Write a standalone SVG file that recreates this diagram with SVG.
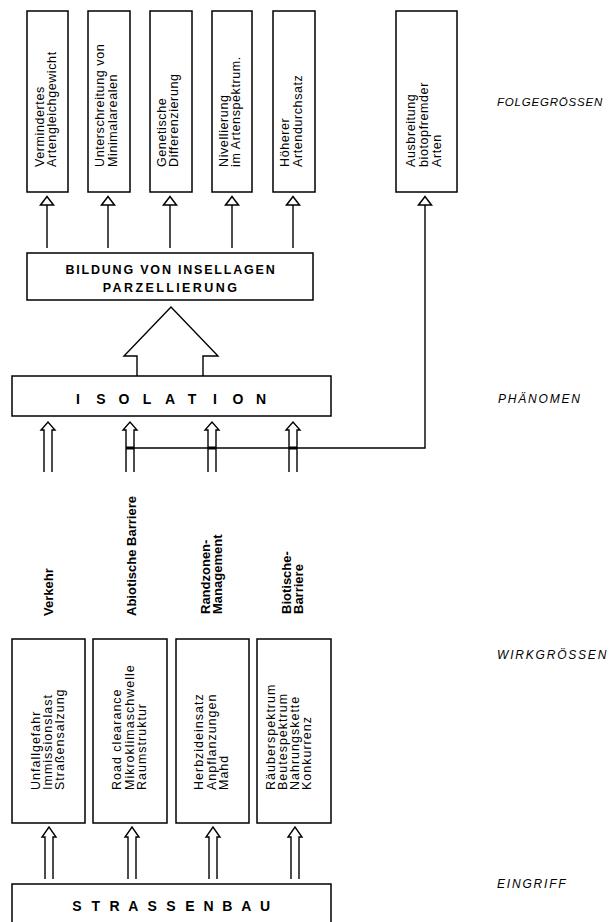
<svg xmlns="http://www.w3.org/2000/svg" width="610" height="922" viewBox="0 0 610 922">
<style>
.box{fill:#fff;stroke:#000;stroke-width:1.5}
.ln{fill:none;stroke:#000;stroke-width:1.4}
.harr{fill:#fff;stroke:#000;stroke-width:1.4;stroke-linejoin:miter}
.t{font-family:"Liberation Sans",Arial,sans-serif;font-size:12.5px;letter-spacing:0.6px;fill:#000}
.t2{font-family:"Liberation Sans",Arial,sans-serif;font-size:12.5px;letter-spacing:1px;fill:#000}
.tb{font-family:"Liberation Sans",Arial,sans-serif;font-size:13px;font-weight:bold;fill:#000}
.hd{font-family:"Liberation Sans",Arial,sans-serif;font-weight:bold;fill:#000}
.lvl{font-family:"Liberation Sans",Arial,sans-serif;font-size:12px;font-style:italic;letter-spacing:1.8px;fill:#000}
</style>
<defs>
<marker id="tri" markerUnits="userSpaceOnUse" markerWidth="12" markerHeight="16" viewBox="-1 -8 12 16" refX="0" refY="0" orient="auto" overflow="visible">
<path d="M0,-6.5 L8.5,0 L0,6.5 Z" fill="#fff" stroke="#000" stroke-width="1.5"/>
</marker>
</defs>

<g id="connectors">
<line class="ln" x1="47" y1="248" x2="47" y2="205" marker-end="url(#tri)"/>
<line class="ln" x1="108" y1="248" x2="108" y2="205" marker-end="url(#tri)"/>
<line class="ln" x1="170" y1="248" x2="170" y2="205" marker-end="url(#tri)"/>
<line class="ln" x1="232" y1="248" x2="232" y2="205" marker-end="url(#tri)"/>
<line class="ln" x1="293" y1="248" x2="293" y2="205" marker-end="url(#tri)"/>
<path class="harr" d="M137,376 V356 H124 L171,307 L218,356 H203 V376"/>
<path class="harr" d="M44,472 V430 H41 L48,422 L55,430 H52 V472"/>
<path class="harr" d="M126,472 V430 H123 L130,422 L137,430 H134 V472"/>
<path class="harr" d="M208,472 V430 H205 L212,422 L219,430 H216 V472"/>
<path class="harr" d="M289,472 V430 H286 L293,422 L300,430 H297 V472"/>
<path class="ln" d="M126,448 H425 V205" marker-end="url(#tri)"/>
<rect x="126" y="446.5" width="8" height="3" fill="#000"/>
<rect x="208" y="446.5" width="8" height="3" fill="#000"/>
<rect x="289" y="446.5" width="8" height="3" fill="#000"/>
<path class="harr" d="M45,879 V837 H42 L49,827 L56,837 H53 V879"/>
<path class="harr" d="M128,879 V837 H125 L132,827 L139,837 H136 V879"/>
<path class="harr" d="M209,879 V837 H206 L213,827 L220,837 H217 V879"/>
<path class="harr" d="M291,879 V837 H288 L295,827 L302,837 H299 V879"/>
</g>

<g id="n-vermindertes">
<rect class="box" x="27" y="11" width="41" height="181"/>
<text class="t" x="43.5" y="167" transform="rotate(-90 43.5 167)">Vermindertes<tspan x="43.5" dy="12">Artengleichgewicht</tspan></text>
</g>
<g id="n-unterschreitung">
<rect class="box" x="88" y="11" width="42" height="181"/>
<text class="t" x="104" y="167" transform="rotate(-90 104 167)">Unterschreitung von<tspan x="104" dy="12.5">Minimalarealen</tspan></text>
</g>
<g id="n-genetische">
<rect class="box" x="150" y="11" width="42" height="181"/>
<text class="t" x="166" y="167" transform="rotate(-90 166 167)">Genetische<tspan x="166" dy="12">Differenzierung</tspan></text>
</g>
<g id="n-nivellierung">
<rect class="box" x="212" y="11" width="40" height="181"/>
<text class="t" x="228" y="167" transform="rotate(-90 228 167)">Nivellierung<tspan x="228" dy="12">im Artenspektrum.</tspan></text>
</g>
<g id="n-hoeherer">
<rect class="box" x="273" y="11" width="42" height="181"/>
<text class="t" x="289" y="167" transform="rotate(-90 289 167)">Höherer<tspan x="289" dy="12.5">Artendurchsatz</tspan></text>
</g>
<g id="n-ausbreitung">
<rect class="box" x="396" y="11" width="61" height="181"/>
<text class="t" x="415" y="167" transform="rotate(-90 415 167)">Ausbreitung<tspan x="415" dy="12.5">biotopfremder</tspan><tspan x="415" dy="13">Arten</tspan></text>
</g>

<g id="n-bildung">
<rect class="box" x="27" y="253" width="286" height="47"/>
<text class="hd" x="171" y="274" text-anchor="middle" font-size="12.5" letter-spacing="1.8">BILDUNG VON INSELLAGEN</text>
<text class="hd" x="171" y="292" text-anchor="middle" font-size="12.5" letter-spacing="2.4">PARZELLIERUNG</text>
</g>

<g id="n-isolation">
<rect class="box" x="12" y="376" width="319" height="40"/>
<text class="hd" font-size="14" text-anchor="middle" y="404" x="78 101 124 147 170 192 215 238 261">ISOLATION</text>
</g>

<g id="l-verkehr"><text class="tb" x="52.5" y="616" transform="rotate(-90 52.5 616)">Verkehr</text></g>
<g id="l-abiotische"><text class="tb" x="136" y="616" transform="rotate(-90 136 616)">Abiotische Barriere</text></g>
<g id="l-randzonen"><text class="tb" x="210" y="614" transform="rotate(-90 210 614)">Randzonen-<tspan x="210" dy="11.5">Management</tspan></text></g>
<g id="l-biotische"><text class="tb" x="291" y="614" transform="rotate(-90 291 614)">Biotische-<tspan x="291" dy="11.5">Barriere</tspan></text></g>

<g id="n-unfall">
<rect class="box" x="12" y="639" width="73" height="184"/>
<text class="t2" x="39.5" y="790" transform="rotate(-90 39.5 790)">Unfallgefahr<tspan x="39.5" dy="12">Immissionslast</tspan><tspan x="39.5" dy="12">Straßensalzung</tspan></text>
</g>
<g id="n-road">
<rect class="box" x="93" y="639" width="74" height="184"/>
<text class="t2" x="121" y="790" transform="rotate(-90 121 790)">Road clearance<tspan x="121" dy="12.5">Mikroklimaschwelle</tspan><tspan x="121" dy="12.5">Raumstruktur</tspan></text>
</g>
<g id="n-herbzid">
<rect class="box" x="176" y="639" width="73" height="184"/>
<text class="t2" x="203" y="790" transform="rotate(-90 203 790)">Herbzideinsatz<tspan x="203" dy="12.5">Anpflanzungen</tspan><tspan x="203" dy="12.5">Mahd</tspan></text>
</g>
<g id="n-raeuber">
<rect class="box" x="257" y="639" width="74" height="184"/>
<text class="t2" x="275" y="790" transform="rotate(-90 275 790)">Räuberspektrum<tspan x="275" dy="12">Beutespektrum</tspan><tspan x="275" dy="12">Nahrungskette</tspan><tspan x="275" dy="12">Konkurrenz</tspan></text>
</g>

<g id="n-strassenbau">
<rect class="box" x="12" y="884" width="319" height="60"/>
<text class="hd" font-size="14" text-anchor="middle" y="911" x="77 95.8 114.6 133.4 152.2 171 189.8 208.6 227.4 246.2 265">STRASSENBAU</text>
</g>

<g id="levels">
<text class="lvl" x="497" y="106" style="font-size:11.5px;letter-spacing:0.8px">FOLGEGRÖSSEN</text>
<text class="lvl" x="498" y="403">PHÄNOMEN</text>
<text class="lvl" x="497" y="659">WIRKGRÖSSEN</text>
<text class="lvl" x="497" y="888">EINGRIFF</text>
</g>
</svg>
